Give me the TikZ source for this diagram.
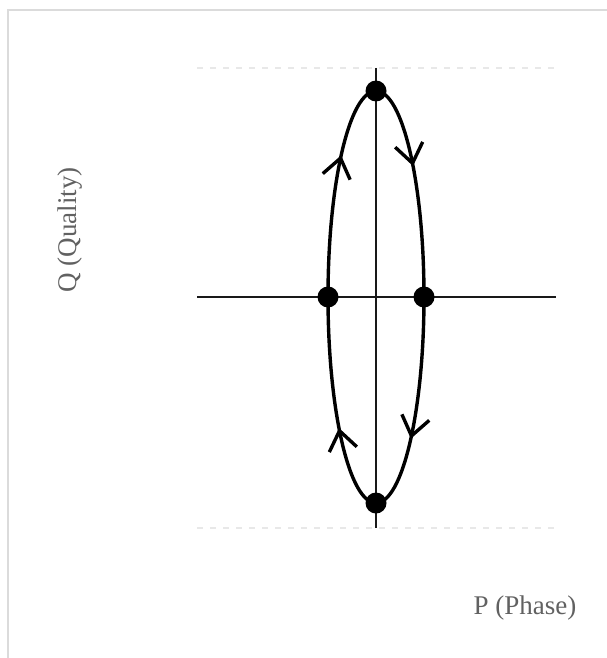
\documentclass[tikz,border=0pt]{standalone}
\usepackage{fontspec}
\setmainfont{Liberation Serif}
\usetikzlibrary{arrows.meta,decorations.markings}
\begin{document}
\begin{tikzpicture}[x=1pt,y=-1pt,
  frameline/.style={line width=2pt, black!14},
  axisline/.style={line width=1.6pt, black!90},
  guide/.style={line width=1.5pt, black!9, dash pattern=on 6pt off 7pt},
  orbit/.style={line width=3.4pt, black},
  dotnode/.style={circle, fill=black, inner sep=0pt, minimum size=21pt},
  lbl/.style={text=black!62, font=\fontsize{27}{30}\selectfont},
  midarrow/.style={postaction={decorate}, decoration={markings,
      mark=at position #1 with {\arrow{Straight Barb[length=19pt,width=28pt]}}}}
]
\useasboundingbox (0,0) rectangle (606,658);
% frame (top and left edges visible)
\coordinate (fa) at (8,700);
\coordinate (fb) at (8,10);
\coordinate (fc) at (650,10);
\draw[frameline] (fa) -- (fb) -- (fc);

% guides
\coordinate (gtl) at (197,68);
\coordinate (gtr) at (556,68);
\coordinate (gbl) at (197,528);
\coordinate (gbr) at (556,528);
\draw[guide] (gtl) -- (gtr);
\draw[guide] (gbl) -- (gbr);

% axes
\coordinate (hl) at (197,297);
\coordinate (hr) at (556,297);
\coordinate (vt) at (376,68);
\coordinate (vb) at (376,528);
\draw[axisline] (hl) -- (hr);
\draw[axisline] (vt) -- (vb);

% orbit points
\coordinate (T) at (376,91);
\coordinate (R) at (424,297);
\coordinate (B) at (376,503);
\coordinate (L) at (328,297);

\draw[orbit, midarrow=0.4] (T) arc[start angle=-90, end angle=0, x radius=48, y radius=206];
\draw[orbit, midarrow=0.65] (R) arc[start angle=0, end angle=90, x radius=48, y radius=206];
\draw[orbit, midarrow=0.4] (B) arc[start angle=90, end angle=180, x radius=48, y radius=206];
\draw[orbit, midarrow=0.65] (L) arc[start angle=180, end angle=270, x radius=48, y radius=206];

\node[dotnode] (dT) at (T) {};
\node[dotnode] (dR) at (R) {};
\node[dotnode] (dB) at (B) {};
\node[dotnode] (dL) at (L) {};

% labels
\node[lbl, rotate=90] (ql) at (70,230) {Q (Quality)};
\node[lbl] (pl) at (525,608) {P (Phase)};
\end{tikzpicture}
\end{document}
